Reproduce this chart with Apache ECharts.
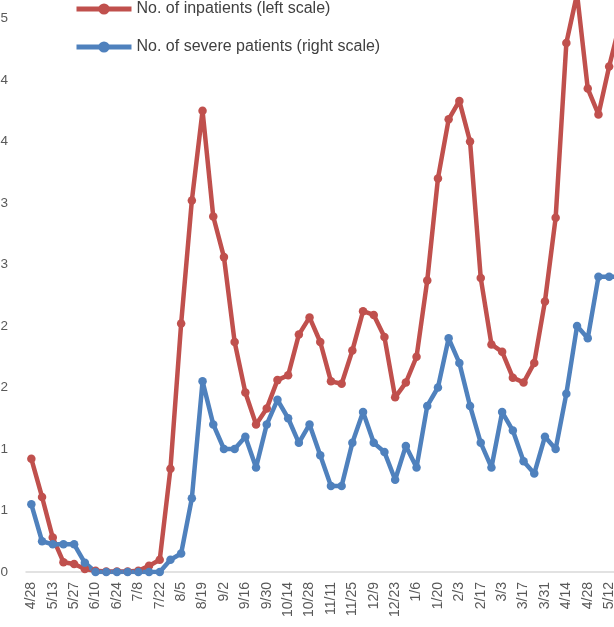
<!DOCTYPE html>
<html>
<head>
<meta charset="utf-8">
<script src="https://cdn.jsdelivr.net/npm/echarts@6/dist/echarts.min.js"></script>
<style>
html,body{margin:0;padding:0;background:#fff;}
#chart{width:614px;height:627px;}
</style>
</head>
<body>
<div id="chart"></div>
<script>
// Weekly categories (every other one is labelled)
const categories = ['4/28','5/6','5/13','5/20','5/27','6/3','6/10','6/17','6/24','7/1','7/8','7/15','7/22','7/29','8/5','8/12','8/19','8/26','9/2','9/9','9/16','9/23','9/30','10/7','10/14','10/21','10/28','11/4','11/11','11/18','11/25','12/2','12/9','12/16','12/23','12/30','1/6','1/13','1/20','1/27','2/3','2/10','2/17','2/24','3/3','3/10','3/17','3/24','3/31','4/7','4/14','4/21','4/28','5/5','5/12','5/19'];

// Left scale (inpatients)
const inpatients = [0.92,0.61,0.28,0.08,0.065,0.025,0.01,0.005,0.005,0.005,0.01,0.05,0.10,0.84,2.02,3.02,3.75,2.89,2.56,1.87,1.46,1.20,1.33,1.56,1.60,1.93,2.07,1.87,1.55,1.53,1.80,2.12,2.09,1.91,1.42,1.54,1.75,2.37,3.20,3.68,3.83,3.50,2.39,1.85,1.79,1.58,1.54,1.70,2.20,2.88,4.30,4.70,3.93,3.72,4.11,4.46];

// Right scale (severe patients)
const severe = [11,5,4.5,4.5,4.5,1.5,0,0,0,0,0,0,0,2,3,12,31,24,20,20,22,17,24,28,25,21,24,19,14,14,21,26,21,19.5,15,20.5,17,27,30,38,34,27,21,17,26,23,18,16,22,20,29,40,38,48,48,48];

const seriesNames = ['No. of inpatients (left scale)', 'No. of severe patients (right scale)'];

const chart = echarts.init(document.getElementById('chart'), null, {renderer: 'canvas'});
const font = 'Liberation Sans, Arial, sans-serif';
chart.setOption({
  animation: false,
  backgroundColor: '#ffffff',
  legend: {
    orient: 'vertical',
    left: 69,
    top: -4,
    padding: 5,
    itemWidth: 55,
    itemHeight: 14,
    itemGap: 22,
    data: seriesNames,
    lineStyle: {width: 5},
    textStyle: {fontFamily: font, fontSize: 16, color: '#404040'}
  },
  grid: {
    left: 26,
    top: -43,
    width: 599.2,
    height: 615,
    containLabel: false,
    outerBoundsMode: 'none'
  },
  xAxis: {
    type: 'category',
    data: categories,
    boundaryGap: true,
    axisLine: {lineStyle: {color: '#d9d9d9', width: 1.5}},
    axisTick: {show: false},
    axisLabel: {
      interval: 1,
      rotate: 90,
      margin: 10,
      color: '#595959',
      fontFamily: font,
      fontSize: 14
    },
    splitLine: {show: false}
  },
  yAxis: [{
    type: 'value',
    min: 0,
    max: 5,
    interval: 0.5,
    axisLine: {show: false},
    axisTick: {show: false},
    splitLine: {show: false},
    axisLabel: {
      margin: 18,
      color: '#595959',
      fontFamily: font,
      fontSize: 13.5,
      formatter: v => String(Math.round(v))
    }
  }, {
    type: 'value',
    min: 0,
    max: 100,
    interval: 10,
    axisLine: {show: false},
    axisTick: {show: false},
    splitLine: {show: false},
    axisLabel: {show: false}
  }],
  series: [{
    name: seriesNames[0],
    type: 'line',
    yAxisIndex: 0,
    data: inpatients,
    symbol: 'circle',
    symbolSize: 8.5,
    showSymbol: true,
    showAllSymbol: true,
    color: '#C0504D',
    lineStyle: {width: 4.5, color: '#C0504D'},
    itemStyle: {color: '#C0504D'}
  }, {
    name: seriesNames[1],
    type: 'line',
    yAxisIndex: 1,
    data: severe,
    symbol: 'circle',
    symbolSize: 8.5,
    showSymbol: true,
    showAllSymbol: true,
    color: '#4F81BD',
    lineStyle: {width: 4.5, color: '#4F81BD'},
    itemStyle: {color: '#4F81BD'}
  }]
});
</script>
</body>
</html>
